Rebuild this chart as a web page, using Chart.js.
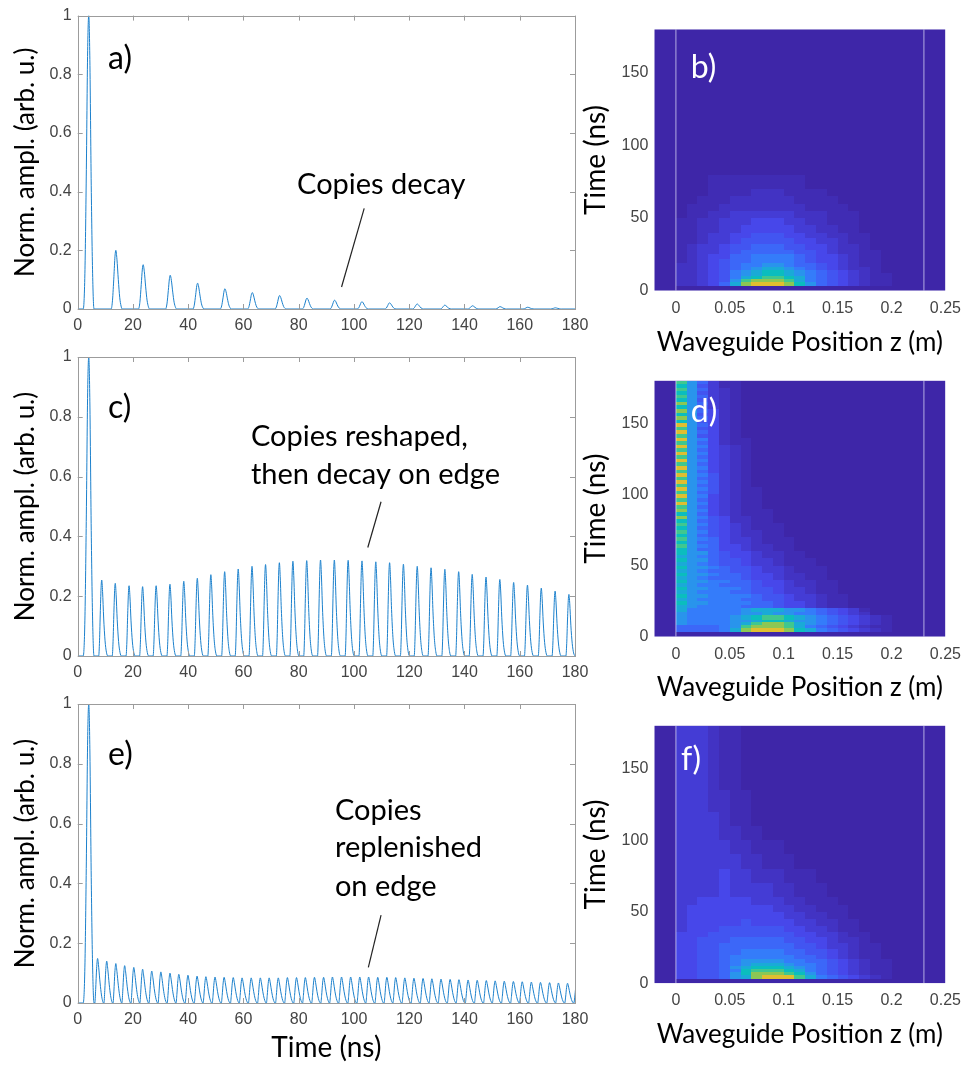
<!DOCTYPE html>
<html>
<head>
<meta charset="utf-8">
<script src="https://cdn.jsdelivr.net/npm/chart.js@4.4.0/dist/chart.umd.min.js"></script>
<style>
html,body{margin:0;padding:0;background:#fff;width:969px;height:1070px;overflow:hidden;position:relative;}
canvas{position:absolute;}
</style>
</head>
<body>
<canvas id="cA" style="left:0px;top:0px;width:600px;height:340px" width="600" height="340"></canvas>
<canvas id="cC" style="left:0px;top:335px;width:600px;height:350px" width="600" height="350"></canvas>
<canvas id="cE" style="left:0px;top:685px;width:600px;height:385px" width="600" height="385"></canvas>
<canvas id="cB" style="left:575px;top:0px;width:394px;height:365px" width="394" height="365"></canvas>
<canvas id="cD" style="left:575px;top:365px;width:394px;height:345px" width="394" height="345"></canvas>
<canvas id="cF" style="left:575px;top:710px;width:394px;height:360px" width="394" height="360"></canvas>
<script>
// ---------------- tick labels ----------------
const timeTicks = [0, 20, 40, 60, 80, 100, 120, 140, 160, 180];
const amplTicks = [0, 0.2, 0.4, 0.6, 0.8, 1];
const zTicks = [0, 0.05, 0.1, 0.15, 0.2, 0.25];
const tTicks = [0, 50, 100, 150];

// ---------------- pulse trains (peak time ns, normalised peak amplitude) ----------------
const aTimes = [4, 13.8, 23.7, 33.5, 43.4, 53.3, 63.2, 73.1, 83.0, 93.0, 102.9, 112.9, 122.9, 132.9, 142.9, 152.9, 162.9, 172.9];
const aPeaks = [1, 0.200, 0.151, 0.115, 0.088, 0.069, 0.056, 0.046, 0.037, 0.030, 0.025, 0.021, 0.017, 0.013, 0.011, 0.008, 0.006, 0.004];

const cTimes = [4, 8.7, 13.6, 18.6, 23.5, 28.4, 33.4, 38.4, 43.3, 48.2, 53.2, 58.1, 63.1, 68.0, 73.0, 77.9, 82.9, 87.9, 92.9, 97.9, 102.9, 107.9, 112.9, 117.9, 122.9, 127.9, 132.9, 137.9, 142.8, 147.8, 152.8, 157.8, 162.8, 167.8, 172.8, 177.8];
const cPeaks = [1, 0.254, 0.243, 0.235, 0.232, 0.235, 0.240, 0.250, 0.260, 0.272, 0.282, 0.291, 0.300, 0.306, 0.312, 0.317, 0.319, 0.321, 0.321, 0.320, 0.318, 0.315, 0.312, 0.307, 0.300, 0.295, 0.290, 0.282, 0.273, 0.264, 0.256, 0.246, 0.237, 0.227, 0.217, 0.206];

const eTimes = [4, 7.2, 10.5, 13.8, 17.0, 20.3, 23.5, 26.8, 30.1, 33.4, 36.6, 39.9, 43.2, 46.4, 49.7, 53.0, 56.3, 59.5, 62.8, 66.1, 69.3, 72.6, 75.9, 79.2, 82.4, 85.7, 89.0, 92.2, 95.5, 98.8, 102.1, 105.3, 108.6, 111.9, 115.1, 118.4, 121.7, 125.0, 128.2, 131.5, 134.8, 138.0, 141.3, 144.6, 147.9, 151.1, 154.4, 157.7, 160.9, 164.2, 167.5, 170.8, 174.0, 177.3, 180.6];
const ePeaks = [1, 0.149, 0.140, 0.132, 0.125, 0.119, 0.113, 0.107, 0.104, 0.100, 0.096, 0.093, 0.090, 0.088, 0.087, 0.086, 0.085, 0.084, 0.084, 0.084, 0.084, 0.084, 0.085, 0.085, 0.085, 0.086, 0.086, 0.087, 0.087, 0.087, 0.087, 0.087, 0.086, 0.086, 0.085, 0.084, 0.083, 0.082, 0.081, 0.080, 0.079, 0.078, 0.077, 0.076, 0.075, 0.074, 0.073, 0.072, 0.071, 0.070, 0.069, 0.068, 0.067, 0.066, 0.065];

// pulse outlines: [offset from peak (ns), fraction of peak]
const mainShape  = [[-2.0,0],[-1.4,0.12],[-0.9,0.45],[-0.4,0.88],[0,1],[0.4,0.85],[0.9,0.42],[1.4,0.12],[1.9,0]];
const copyShapeA = [[-1.7,0],[-1.2,0.15],[-0.7,0.55],[-0.3,0.9],[0,1],[0.4,0.85],[0.9,0.5],[1.4,0.2],[1.9,0.05],[2.3,0]];
const copyShapeC = [[-1.1,0],[-0.8,0.2],[-0.5,0.6],[-0.2,0.93],[0,1],[0.3,0.85],[0.7,0.5],[1.2,0.2],[1.7,0.05],[2.2,0]];
const copyShapeE = [[-1.0,0],[-0.7,0.3],[-0.35,0.78],[0,1],[0.4,0.8],[0.9,0.45],[1.4,0.18],[1.8,0.05],[2.1,0]];

// ---------------- heat maps ----------------
// columns: z = 0 .. 0.20 m in 0.01 m steps; each character is a colour level 0-f
const zEdges = [0,0.01,0.02,0.03,0.04,0.05,0.06,0.07,0.08,0.09,0.10,0.11,0.12,0.13,0.14,0.15,0.16,0.17,0.18,0.19,0.20];
const levelValues = [0, 0.02, 0.045, 0.075, 0.11, 0.15, 0.2, 0.26, 0.33, 0.41, 0.49, 0.58, 0.68, 0.78, 0.85, 0.93];
const guideEdges = [0, 0.23];

const bRowEdges = [3,6,8,10,12,14,16,19,22,25,28,32,36,40,45,50,55,60,65,70,80];
const bRows = [
"223469cdddca86543211",
"223458bcccb976543211",
"2234579abba976543211",
"22345789aa9876543211",
"22345789aa9876543210",
"22345678998765432210",
"22345677887665432110",
"12345667777654432110",
"12344667777654432110",
"12334566666554322110",
"12334556665544322100",
"11233455555443321100",
"11233445554433221100",
"11223344444332211000",
"11223334443322111000",
"01122333333222111000",
"01112222222211110000",
"00111222222111100000",
"00011112221111000000",
"00011111111100000000"];

const dRowEdges = [3,6,8,10,12,15,17.5,20,22.5,25,27.5,30,32.5,35,37.5,40,42.5,45,47.5,50,52.5,55,57.5,60,62.5,65,67.5,70,72.5,75,77.5,80,82.5,85,87.5,90,92.5,95,97.5,100,102.5,105,107.5,110,112.5,115,117.5,120,122.5,125,127.5,130,132.5,135,137.5,140,142.5,145,147.5,150,152.5,155,157.5,160,162.5,165,167.5,170,172.5,175,177.5,180];
const dRows = [
"666679cdddca97654321",
"666678bcccb976543211",
"8777789bccb987654321",
"87777889aa9887654321",
"8777789abba987654321",
"87777788988776543200",
"97777789998876543100",
"9877776665443211","a887777665443211",
"9877776655433211","a887777655433211",
"9877766554332110","a887776554332110",
"9877666544322110","a887766544322110",
"9876665443221100","a887665443221100",
"9876655433211100","a887655433211100",
"9876554332111000","a886554332111000",
"9876544322110000","a886544322110000",
"a866443221100000","b876443221100000",
"a866433211100000","b876433211100000",
"a865432211000000","b875432211000000",
"a865432111000000","b875432111000000",
"a865422110000000","c875422110000000",
"a864321110000000","c874321110000000",
"b864321100000000","d874321100000000",
"b864321100000000","d874321100000000",
"b865321100000000","d875321100000000",
"b865321000000000","d875321000000000",
"b865321000000000","d875321000000000",
"b864321000000000","d874321000000000",
"b864321000000000","d874321000000000",
"b864321000000000","d874321000000000",
"b864321000000000","d874321000000000",
"b864211000000000","d874211000000000",
"b854210000000000","d864210000000000",
"b854210000000000","d864210000000000",
"a854210000000000","c864210000000000",
"a854210000000000","c864210000000000",
"a853210000000000","c863210000000000",
"a853210000000000","b863210000000000",
"a853210000000000","b863210000000000",
"a853110000000000","b863110000000000"];

const fRowEdges = [3,6,8,10,12,14,17,20,24,28,32,36,40,45,50,55,60,70,80,90,100,110,120,135,150,165,180];
const fRows = [
"4455689cdddb97654321",
"445568acccba86543211",
"445567abbba976543211",
"4455689aaa9876543211",
"44556789998776543211",
"44556788887766543211",
"44556777777665432110",
"44556677776655432110",
"44556666666554332110",
"44555666665544322100",
"44455555555443321100",
"34445555554433211000",
"34444454444332211000",
"34444444443322110000",
"34444444433221110000",
"33444443332211100000",
"3333433332211100000",
"3333433222111000000",
"333333221110000000",
"33333221110000000",
"3333221100000000",
"333321100000000",
"33322110000000",
"3332110000000",
"333211000000",
"33321100000"];

// parula colour map stops
const parulaStops = [
 [0.000,[62,38,168]],[0.111,[71,71,235]],[0.238,[56,117,254]],[0.365,[35,160,229]],
 [0.492,[11,189,189]],[0.619,[87,204,122]],[0.746,[197,194,42]],[0.810,[248,186,54]],
 [0.873,[254,201,52]],[0.937,[245,227,39]],[1.000,[249,251,21]]];
function parula(v){
  v=Math.max(0,Math.min(1,v));
  for(let i=1;i<parulaStops.length;i++){
    const [p1,c1]=parulaStops[i], [p0,c0]=parulaStops[i-1];
    if(v<=p1){const f=(v-p0)/(p1-p0);
      return 'rgb('+c0.map((c,k)=>Math.round(c+(c1[k]-c)*f)).join(',')+')';}
  }
  return 'rgb(249,251,21)';
}

function buildTrace(times, peaks, first, copy){
  const pts=[{x:0,y:0}];
  times.forEach((t,i)=>{(i===0?first:copy).forEach(([dx,f])=>pts.push({x:t+dx,y:peaks[i]*f}));});
  if(pts[pts.length-1].x<180) pts.push({x:180,y:0});
  return pts;
}

const TICKFONT={family:'"Liberation Sans", Arial, sans-serif', size:16};
const TITLEFONT='Lato, "Open Sans", sans-serif';
const TICKCOL='#444444';

const notesPlugin={
  id:'notes',
  afterDatasetsDraw(chart,args,o){
    const {ctx,scales:{x,y}}=chart;
    (o.lines||[]).forEach(l=>{
      ctx.save();ctx.strokeStyle='#222';ctx.lineWidth=1.2;ctx.beginPath();
      ctx.moveTo(x.getPixelForValue(l[0]),y.getPixelForValue(l[1]));
      ctx.lineTo(x.getPixelForValue(l[2]),y.getPixelForValue(l[3]));ctx.stroke();ctx.restore();
    });
    (o.texts||[]).forEach(n=>{
      ctx.save();ctx.font=n.size+'px '+TITLEFONT;ctx.fillStyle=n.color||'#000';
      ctx.textAlign='left';ctx.textBaseline='middle';
      ctx.fillText(n.text,x.getPixelForValue(n.x),y.getPixelForValue(n.y));ctx.restore();
    });
  }
};
const boxPlugin={
  id:'box',
  afterDatasetsDraw(chart){
    const {ctx,chartArea:a,scales:{x,y}}=chart;
    ctx.save();ctx.strokeStyle='#9c9c9c';ctx.lineWidth=1;
    ctx.strokeRect(Math.round(a.left)+0.5,Math.round(a.top)+0.5,Math.round(a.right-a.left),Math.round(a.bottom-a.top));
    ctx.beginPath();
    x.ticks.forEach(t=>{const p=Math.round(x.getPixelForValue(t.value))+0.5;
      ctx.moveTo(p,a.bottom);ctx.lineTo(p,a.bottom-5);ctx.moveTo(p,a.top);ctx.lineTo(p,a.top+5);});
    y.ticks.forEach(t=>{const p=Math.round(y.getPixelForValue(t.value))+0.5;
      ctx.moveTo(a.left,p);ctx.lineTo(a.left+5,p);ctx.moveTo(a.right,p);ctx.lineTo(a.right-5,p);});
    ctx.stroke();ctx.restore();
  }
};
const heatPlugin={
  id:'heat',
  beforeDatasetsDraw(chart,args,o){
    const {ctx,chartArea:a,scales:{x,y}}=chart;
    ctx.save();
    ctx.beginPath();ctx.rect(a.left,a.top,a.right-a.left,a.bottom-a.top);ctx.clip();
    ctx.fillStyle=parula(0);ctx.fillRect(a.left,a.top,a.right-a.left,a.bottom-a.top);
    const edges=o.edges, rows=o.rows;
    for(let r=0;r<rows.length;r++){
      const yTop=Math.round(y.getPixelForValue(edges[r+1])), yBot=Math.round(y.getPixelForValue(edges[r]));
      const row=rows[r];
      for(let c=0;c<row.length&&c<zEdges.length-1;c++){
        const v=levelValues[parseInt(row[c],16)]; if(!v) continue;
        const x0=Math.round(x.getPixelForValue(zEdges[c])), x1=Math.round(x.getPixelForValue(zEdges[c+1]));
        ctx.fillStyle=parula(v);ctx.fillRect(x0,yTop,x1-x0,yBot-yTop);
      }
    }
    ctx.restore();
  }
};

function lineChart(id,times,peaks,copy,cfg){
  return new Chart(document.getElementById(id),{
    type:'line',
    data:{datasets:[{data:buildTrace(times,peaks,mainShape,copy),borderColor:'rgb(28,128,204)',borderWidth:1,
      pointRadius:0,fill:false,cubicInterpolationMode:'monotone'}]},
    options:{
      responsive:false,animation:false,devicePixelRatio:1,
      layout:{padding:{top:cfg.padTop,right:25,left:0,bottom:0}},
      plugins:{legend:{display:false},tooltip:{enabled:false},notes:cfg.notes},
      scales:{
        x:{type:'linear',min:0,max:180,
          afterBuildTicks:s=>{s.ticks=timeTicks.map(v=>({value:v}));},
          afterFit:s=>{s.height=cfg.xH;},
          grid:{display:false,drawTicks:false},border:{display:false},
          ticks:{color:TICKCOL,font:TICKFONT,padding:7,maxRotation:0,autoSkip:false,callback:v=>String(v)},
          title:cfg.xTitle?{display:true,text:'Time (ns)',color:'#000',font:{family:TITLEFONT,size:28},padding:{top:0,bottom:5.2}}:{display:false}},
        y:{type:'linear',min:0,max:1,
          afterBuildTicks:s=>{s.ticks=amplTicks.map(v=>({value:v}));},
          afterFit:s=>{s.width=77.7;},
          grid:{display:false,drawTicks:false},border:{display:false},
          ticks:{color:TICKCOL,font:TICKFONT,padding:6,autoSkip:false,callback:v=>String(v)},
          title:{display:true,text:'Norm. ampl. (arb. u.)',color:'#000',font:{family:TITLEFONT,size:26},padding:{top:10.4,bottom:0}}}
      }
    },
    plugins:[notesPlugin,boxPlugin]
  });
}

function heatChart(id,edges,rows,cfg){
  const guides=guideEdges.map(z=>({data:[{x:z,y:0},{x:z,y:180}],showLine:true,borderColor:'rgba(235,235,255,0.45)',borderWidth:1.5,pointRadius:0}));
  return new Chart(document.getElementById(id),{
    type:'scatter',
    data:{datasets:guides},
    options:{
      responsive:false,animation:false,devicePixelRatio:1,
      layout:{padding:{top:cfg.padTop,right:15.7,left:0,bottom:0}},
      plugins:{legend:{display:false},tooltip:{enabled:false},heat:{edges,rows},notes:cfg.notes},
      scales:{
        x:{type:'linear',min:-0.02,max:0.25,
          afterBuildTicks:s=>{s.ticks=zTicks.map(v=>({value:v}));},
          afterFit:s=>{s.height=cfg.xH;},
          grid:{display:false,drawTicks:false},border:{display:false},
          ticks:{color:TICKCOL,font:TICKFONT,padding:8,maxRotation:0,autoSkip:false,callback:v=>String(v)},
          title:{display:true,text:'Waveguide Position z (m)',color:'#000',font:{family:TITLEFONT,size:26},padding:{top:0,bottom:cfg.titlePad}}},
        y:{type:'linear',min:0,max:180,
          afterBuildTicks:s=>{s.ticks=tTicks.map(v=>({value:v}));},
          afterFit:s=>{s.width=79.3;},
          grid:{display:false,drawTicks:false},border:{display:false},
          ticks:{color:TICKCOL,font:TICKFONT,padding:6,autoSkip:false,callback:v=>String(v)},
          title:{display:true,text:'Time (ns)',color:'#000',font:{family:TITLEFONT,size:28},padding:{top:4.2,bottom:0}}}
      }
    },
    plugins:[heatPlugin,notesPlugin]
  });
}

lineChart('cA',aTimes,aPeaks,copyShapeA,{padTop:11,xH:31,xTitle:false,notes:{
  texts:[{text:'a)',x:11,y:0.852,size:32},{text:'Copies decay',x:79.4,y:0.423,size:29}],
  lines:[[103.7,0.343,95.5,0.075]]}});
lineChart('cC',cTimes,cPeaks,copyShapeC,{padTop:22,xH:29,xTitle:false,notes:{
  texts:[{text:'c)',x:11,y:0.832,size:32},{text:'Copies reshaped,',x:62.7,y:0.732,size:29},{text:'then decay on edge',x:62.7,y:0.608,size:29}],
  lines:[[109.8,0.516,105.0,0.363]]}});
lineChart('cE',eTimes,ePeaks,copyShapeE,{padTop:19,xH:67,xTitle:true,notes:{
  texts:[{text:'e)',x:11,y:0.829,size:32},{text:'Copies',x:93.1,y:0.645,size:29},{text:'replenished',x:93.1,y:0.518,size:29},{text:'on edge',x:93.1,y:0.388,size:29}],
  lines:[[109.8,0.294,105.2,0.119]]}});

heatChart('cB',bRowEdges,bRows,{padTop:29.3,xH:74.3,titlePad:6.4,notes:{texts:[{text:'b)',x:0.0138,y:153.6,size:32,color:'#fff'}]}});
heatChart('cD',dRowEdges,dRows,{padTop:10.7,xH:73.3,titlePad:6.4,notes:{texts:[{text:'d)',x:0.0138,y:158.2,size:32,color:'#fff'}]}});
heatChart('cF',fRowEdges,fRows,{padTop:12.7,xH:86.7,titlePad:19.4,notes:{texts:[{text:'f)',x:0.0048,y:155.9,size:32,color:'#fff'}]}});
</script>
</body>
</html>
